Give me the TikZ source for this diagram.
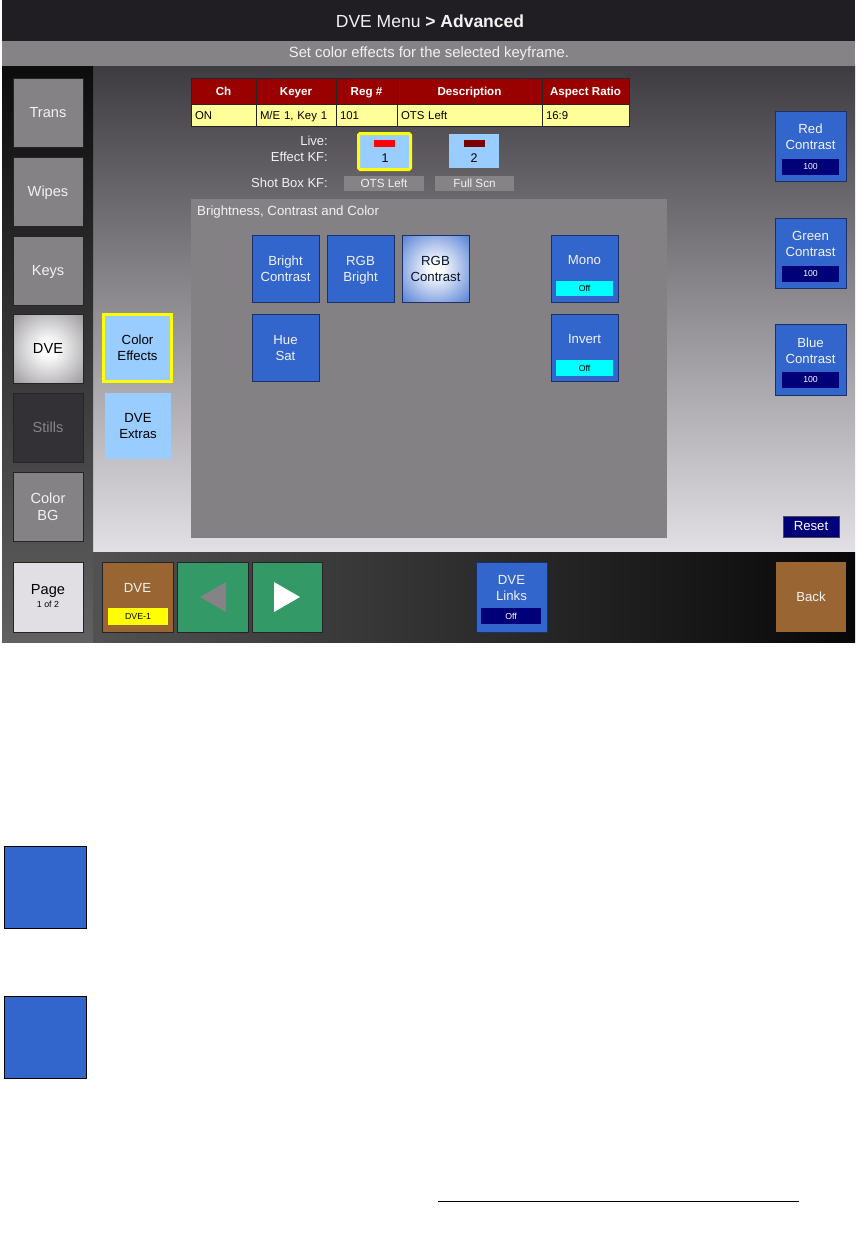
\documentclass[tikz,border=0pt]{standalone}
\usepackage{fontspec}
\setmainfont{Liberation Sans}
\definecolor{titlebar}{HTML}{201E22}
\definecolor{subbar}{HTML}{858386}
\definecolor{sidegray}{HTML}{858286}
\definecolor{sideedge}{HTML}{262427}
\definecolor{stillsgray}{HTML}{333135}
\definecolor{pagegray}{HTML}{E1DFE4}
\definecolor{ltblue}{HTML}{99CCFF}
\definecolor{ublue}{HTML}{3366CC}
\definecolor{bedge}{HTML}{1C2F66}
\definecolor{ubrown}{HTML}{996633}
\definecolor{ugreen}{HTML}{339966}
\definecolor{navy}{HTML}{000078}
\definecolor{ucyan}{HTML}{00FFFF}
\definecolor{uyellow}{HTML}{FFFF00}
\definecolor{ured}{HTML}{FF0000}
\definecolor{hdrred}{HTML}{990000}
\definecolor{rowyel}{HTML}{FFFF99}
\definecolor{paneltop}{HTML}{3E3C40}
\definecolor{panelbot}{HTML}{E2E0E4}
\definecolor{bcc}{HTML}{848185}
\definecolor{ltext}{HTML}{F2F2F2}
\pgfdeclareradialshading{dveglow}{\pgfpoint{0bp}{0bp}}{color(0bp)=(white); color(5bp)=(white); color(42bp)=(sidegray); color(50bp)=(sidegray)}
\pgfdeclareradialshading{blueglow}{\pgfpoint{0bp}{0bp}}{color(0bp)=(white); color(4bp)=(white); color(42bp)=(ublue); color(50bp)=(ublue)}
\newcommand{\fsz}[2]{\fontsize{#1pt}{#2pt}\selectfont}
\tikzset{
  base/.style={inner sep=0pt, outer sep=0pt, anchor=north west},
  txt/.style={inner sep=0pt, outer sep=0pt, align=center},
  sidebtn/.style={base, draw=sideedge, fill=sidegray, text=ltext, line width=0.8pt, minimum width=70pt, minimum height=69pt, text depth=0pt, font=\fsz{14.6}{17}, align=center},
  bluebtn/.style={base, draw=bedge, fill=ublue, text=ltext, line width=1pt, minimum width=67pt, minimum height=67pt, text depth=0pt, font=\fsz{13.2}{16}, align=center},
  rightbtn/.style={base, draw=bedge, fill=ublue, line width=1pt, minimum width=71pt, minimum height=70pt},
  valbar/.style={base, fill=navy, text=white, minimum width=57pt, minimum height=16pt, font=\fsz{8.7}{10}},
  offbar/.style={base, fill=ucyan, text=black, minimum width=57pt, minimum height=15pt, font=\fsz{8.7}{10}},
  hdr/.style={base, draw=sideedge, fill=hdrred, text=white, line width=0.8pt, minimum height=26pt, text height=8.4pt, text depth=0.4pt, font=\fsz{11.6}{13}\bfseries},
  rowc/.style={base, draw=sideedge, fill=rowyel, text=black, line width=0.8pt, minimum height=22pt, inner xsep=4pt, text height=8.2pt, text depth=0.2pt, align=left, font=\fsz{11.4}{13}},
  lbl/.style={inner sep=0pt, anchor=east, text=ltext, font=\fsz{13}{15}},
  shot/.style={base, fill=subbar, text=ltext, minimum height=15pt, font=\fsz{11.7}{13}},
  botbtn/.style={base, draw=sideedge, line width=0.8pt, minimum width=71pt, minimum height=70pt, text=ltext, font=\fsz{13.2}{16}, align=center},
  bigsq/.style={base, draw=black, fill=ublue, line width=1pt, minimum width=82pt, minimum height=82pt}
}
\begin{document}
\begin{tikzpicture}[x=1pt,y=-1pt]
\useasboundingbox (0,0) rectangle (864,1247);
\fill[white] (0,0) rectangle (864,1247);
% frame areas
\fill[titlebar] (2,0) rectangle (855,41);
\fill[subbar] (2,41) rectangle (855,67);
\draw[black!60, line width=0.6pt] (2,67) -- (855,67);
\shade[top color=paneltop, bottom color=panelbot] (93,67) rectangle (855,552);
\shade[top color=black!95, bottom color=black!62] (2,67) rectangle (93,642);
\shade[left color=black!68, right color=black!97] (93,552) rectangle (855,642);
% title
\node[txt, text=ltext, font=\fsz{17.5}{20}] (title) at (430,21) {DVE Menu \textbf{> Advanced}};
\node[txt, text=ltext, font=\fsz{14.8}{17}] (subtitle) at (429,54) {Set color effects for the selected keyframe.};
% side buttons
\node[sidebtn] (trans) at (13,78) {Trans};
\node[sidebtn] (wipes) at (13,157) {Wipes};
\node[sidebtn] (keys) at (13,236) {Keys};
\node[sidebtn, shading=dveglow, text=black] (dve) at (13,314) {DVE};
\node[sidebtn, fill=stillsgray, text=black!48] (stills) at (13,393) {Stills};
\node[sidebtn] (colorbg) at (13,472) {Color\\BG};
\node[sidebtn, fill=pagegray, minimum height=70pt] (page) at (13,562) {};
\node[txt, text=black, font=\fsz{14.6}{17}] (pagetxt) at (48,591) {Page};
\node[txt, text=black, font=\fsz{8.8}{10}] (pagenum) at (48,604) {1 of 2};
% color effects / dve extras
\node[base, draw=uyellow, fill=ltblue, line width=3pt, minimum width=68pt, minimum height=67pt, text=black, font=\fsz{13.2}{16}, align=center] (coloreff) at (103.5,314.5) {Color\\Effects};
\node[base, fill=ltblue, minimum width=66pt, minimum height=66pt, text=black, font=\fsz{13.2}{16}, align=center] (dveextras) at (105,393) {DVE\\Extras};
% table
\node[hdr, minimum width=65pt] (hch) at (191,78) {Ch};
\node[hdr, minimum width=80pt] (hkeyer) at (256,78) {Keyer};
\node[hdr, minimum width=61pt] (hreg) at (336,78) {Reg \#};
\node[hdr, minimum width=145pt] (hdesc) at (397,78) {Description};
\node[hdr, minimum width=87pt] (hasp) at (542,78) {Aspect Ratio};
\node[rowc, text width=57pt] (rch) at (191,104) {ON};
\node[rowc, text width=72pt] (rkeyer) at (256,104) {M/E 1, Key 1};
\node[rowc, text width=53pt] (rreg) at (336,104) {101};
\node[rowc, text width=137pt] (rdesc) at (397,104) {OTS Left};
\node[rowc, text width=79pt] (rasp) at (542,104) {16:9};
% keyframes
\node[lbl] (live) at (328,141) {Live:};
\node[lbl] (effkf) at (328,157) {Effect KF:};
\node[lbl] (shotkf) at (328,183) {Shot Box KF:};
\node[base, draw=uyellow, fill=ltblue, line width=3pt, rounded corners=1.5pt, minimum width=52pt, minimum height=36pt] (kf1) at (358.5,133.5) {};
\node[base, fill=ured, minimum width=21pt, minimum height=7pt] (kf1bar) at (374,140) {};
\node[txt, text=black, font=\fsz{12.5}{14}] (kf1num) at (385,158) {1};
\node[base, fill=ltblue, minimum width=50pt, minimum height=34pt] (kf2) at (449,134) {};
\node[base, fill=hdrred!80!black, minimum width=21pt, minimum height=7pt] (kf2bar) at (464,140) {};
\node[txt, text=black, font=\fsz{12.5}{14}] (kf2num) at (474,158) {2};
\node[shot, minimum width=80pt] (otsleft) at (344,176) {OTS Left};
\node[shot, minimum width=79pt] (fullscn) at (435,176) {Full Scn};
% brightness panel
\node[base, fill=bcc, minimum width=476pt, minimum height=339pt] (bpanel) at (191,199) {};
\node[inner sep=0pt, anchor=west, text=ltext, font=\fsz{13.3}{15}] (btitle) at (197,212) {Brightness, Contrast and Color};
\node[bluebtn] (brightc) at (252,235) {Bright\\Contrast};
\node[bluebtn] (rgbb) at (327,235) {RGB\\Bright};
\node[bluebtn, shading=blueglow, text=black!80!ublue] (rgbc) at (402,235) {RGB\\Contrast};
\node[bluebtn] (mono) at (551,235) {};
\node[txt, text=ltext, font=\fsz{13.2}{16}] (monotxt) at (584.5,260) {Mono};
\node[offbar] (monooff) at (556,281) {Off};
\node[bluebtn] (huesat) at (252,314) {Hue\\Sat};
\node[bluebtn] (invert) at (551,314) {};
\node[txt, text=ltext, font=\fsz{13.2}{16}] (inverttxt) at (584.5,339) {Invert};
\node[offbar, minimum height=16pt] (invertoff) at (556,360) {Off};
% right buttons
\node[rightbtn] (redc) at (775,111) {};
\node[txt, text=ltext, font=\fsz{13.2}{16}] (redtxt) at (810.5,137) {Red\\Contrast};
\node[valbar] (redval) at (782,159) {100};
\node[rightbtn] (greenc) at (775,218) {};
\node[txt, text=ltext, font=\fsz{13.2}{16}] (greentxt) at (810.5,244) {Green\\Contrast};
\node[valbar] (greenval) at (782,266) {100};
\node[rightbtn, minimum height=71pt] (bluec) at (775,324) {};
\node[txt, text=ltext, font=\fsz{13.2}{16}] (bluetxt) at (810.5,351) {Blue\\Contrast};
\node[valbar] (blueval) at (782,372) {100};
\node[base, fill=navy, draw=black!70, line width=0.6pt, text=white, minimum width=56pt, minimum height=21pt, font=\fsz{13.2}{15}] (reset) at (783,516) {Reset};
% bottom bar
\node[botbtn, fill=ubrown] (dvebot) at (102,562) {};
\node[txt, text=ltext, font=\fsz{13.2}{16}] (dvebottxt) at (137.5,588) {DVE};
\node[base, fill=uyellow, text=black, minimum width=60pt, minimum height=17pt, font=\fsz{8.8}{10}] (dvebar) at (108,608) {DVE-1};
\node[botbtn, fill=ugreen] (prevbtn) at (177,562) {};
\node[botbtn, fill=ugreen, minimum width=70pt] (nextbtn) at (252,562) {};
\fill[subbar] (200,597) -- (226,582) -- (226,612) -- cycle;
\fill[white] (274,582) -- (300,597) -- (274,612) -- cycle;
\node[botbtn, fill=ublue, draw=bedge] (dvelinks) at (476,562) {};
\node[txt, text=ltext, font=\fsz{13.2}{16}] (dvelinkstxt) at (511.5,588) {DVE\\Links};
\node[base, fill=navy, text=white, minimum width=60pt, minimum height=16pt, font=\fsz{8.7}{10}] (dvelinksoff) at (481,608) {Off};
\node[botbtn, fill=ubrown, minimum width=70pt, draw=none] (back) at (776,562) {Back};
% lower figures
\node[bigsq] (sq1) at (4,846) {};
\node[bigsq] (sq2) at (4,996) {};
\coordinate (lineA) at (438,1201);
\coordinate (lineB) at (799,1201);
\draw[black, line width=1pt] (lineA) -- (lineB);
\end{tikzpicture}
\end{document}
